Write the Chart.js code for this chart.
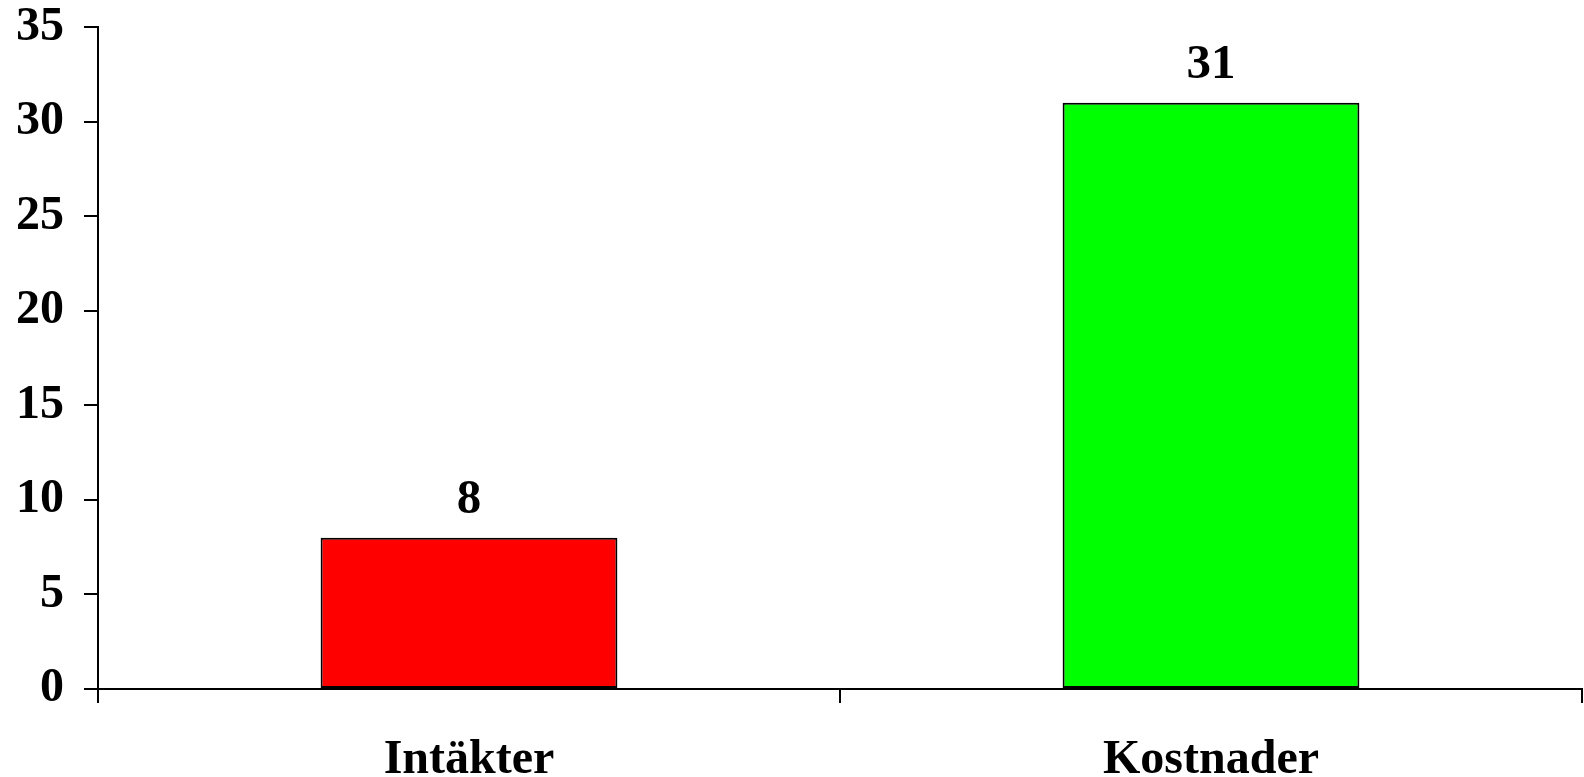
<!DOCTYPE html>
<html>
<head>
<meta charset="utf-8">
<script src="https://cdn.jsdelivr.net/npm/chart.js@4.4.0/dist/chart.umd.min.js"></script>
<style>
  html, body { margin: 0; padding: 0; background: #fff; }
  #wrap { width: 1584px; height: 777px; position: relative; }
</style>
</head>
<body>
<div id="wrap"><canvas id="myChart"></canvas></div>
<script>
// Dados
const categorias = ['Intäkter', 'Kostnader'];
const valores = [8, 31];
const cores = ['#FF0000', '#00FF00'];
const yMax = 35;
const yPasso = 5;

const fonte = '"Liberation Serif", "Times New Roman", serif';

// Rótulos de valor acima das barras
const rotulosBarras = {
  id: 'rotulosBarras',
  afterDatasetsDraw(chart) {
    const ctx = chart.ctx;
    ctx.save();
    ctx.font = 'bold 49px ' + fonte;
    ctx.fillStyle = '#000';
    ctx.textAlign = 'center';
    ctx.textBaseline = 'alphabetic';
    chart.getDatasetMeta(0).data.forEach((bar, i) => {
      ctx.fillText(String(valores[i]), bar.x, bar.y - 25);
    });
    ctx.restore();
  }
};

const ctx = document.getElementById('myChart').getContext('2d');
const myChart = new Chart(ctx, {
  type: 'bar',
  data: {
    labels: categorias,
    datasets: [{
      data: valores,
      backgroundColor: cores,
      borderColor: '#000',
      borderWidth: 2,
      borderSkipped: false,
      barPercentage: 0.4,
      categoryPercentage: 1.0
    }]
  },
  options: {
    responsive: true,
    maintainAspectRatio: false,
    animation: false,
    layout: { padding: { left: 18, right: 2, top: 0, bottom: 0 } },
    plugins: {
      legend: { display: false },
      tooltip: { enabled: false }
    },
    scales: {
      x: {
        afterFit(scale) { scale.height = 88; },
        grid: {
          display: true,
          drawOnChartArea: false,
          drawTicks: true,
          tickLength: 14,
          color: '#000',
          lineWidth: 2,
          offset: true
        },
        border: { display: true, color: '#000', width: 2 },
        ticks: {
          color: '#000',
          padding: 29,
          font: { family: fonte, size: 48, weight: 'bold' }
        }
      },
      y: {
        min: 0,
        max: yMax,
        afterFit(scale) { scale.width = 80; },
        grid: {
          display: true,
          drawOnChartArea: false,
          drawTicks: true,
          tickLength: 14,
          color: '#000',
          lineWidth: 2
        },
        border: { display: true, color: '#000', width: 2 },
        ticks: {
          stepSize: yPasso,
          color: '#000',
          padding: 20,
          font: { family: fonte, size: 48, weight: 'bold', lineHeight: 0.3 }
        }
      }
    }
  },
  plugins: [rotulosBarras]
});
</script>
</body>
</html>
